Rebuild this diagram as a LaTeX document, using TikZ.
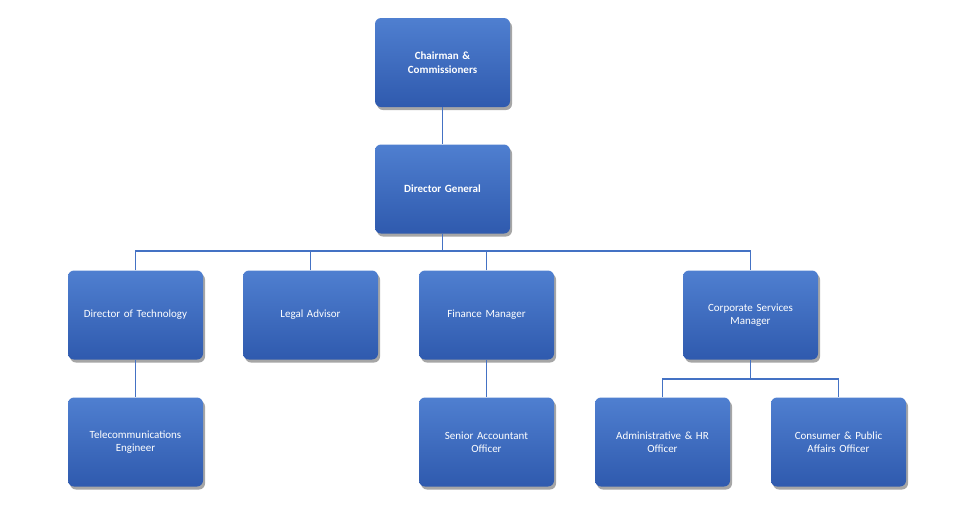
\documentclass[tikz,border=0pt]{standalone}
\usepackage{fontspec}
\setmainfont{Carlito}
\usetikzlibrary{shadows}
\definecolor{btop}{HTML}{4F7FD0}
\definecolor{bbot}{HTML}{2F5AAE}
\definecolor{lnc}{HTML}{4472C4}
\begin{document}
\begin{tikzpicture}[x=1pt,y=-1pt,
 box/.style={draw=none,rounded corners=6pt,minimum width=135pt,minimum height=89pt,
   top color=btop,bottom color=bbot,text=white,align=center,text width=125pt,
   font=\fontsize{11}{13.5}\selectfont,
   drop shadow={shadow xshift=2pt,shadow yshift=-3pt,fill=black,opacity=.35}},
 ln/.style={draw=lnc,line width=1.6pt}]
\useasboundingbox (0,0) rectangle (969,507);
\node[box,font=\bfseries\fontsize{11}{13.5}\selectfont] (ch) at (442.5,62.5) {Chairman \&\\Commissioners};
\node[box,font=\bfseries\fontsize{11}{13.5}\selectfont] (dg) at (442.5,189) {Director General};
\node[box] (dt) at (135.5,315) {Director of Technology};
\node[box] (la) at (310.5,315) {Legal Advisor};
\node[box] (fm) at (486.5,315) {Finance Manager};
\node[box] (cs) at (750.5,315) {Corporate Services\\Manager};
\node[box] (te) at (135.5,442) {Telecommunications\\Engineer};
\node[box] (sa) at (486.5,442) {Senior Accountant\\Officer};
\node[box] (ah) at (662.5,442) {Administrative \& HR\\Officer};
\node[box] (cp) at (838.5,442) {Consumer \& Public\\Affairs Officer};
\begin{scope}[on background layer/.try]
\end{scope}
\coordinate (b1) at (0,251);
\coordinate (b2) at (0,379);
\draw[ln] (ch.south) -- (dg.north);
\draw[ln] (dg.south) -- (dg.south |- b1);
\draw[ln] (dt.north) -- (dt.north |- b1) -- (cs.north |- b1) -- (cs.north);
\draw[ln] (la.north) -- (la.north |- b1);
\draw[ln] (fm.north) -- (fm.north |- b1);
\draw[ln] (dt.south) -- (te.north);
\draw[ln] (fm.south) -- (sa.north);
\draw[ln] (cs.south) -- (cs.south |- b2);
\draw[ln] (ah.north) -- (ah.north |- b2) -- (cp.north |- b2) -- (cp.north);
\end{tikzpicture}
\end{document}
